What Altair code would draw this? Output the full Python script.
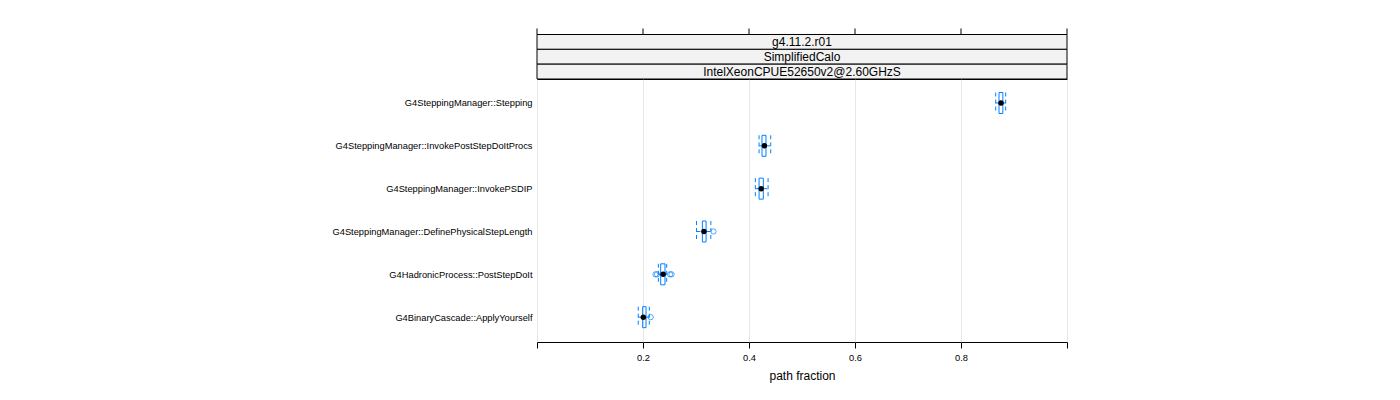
import altair as alt
import pandas as pd

# ---- data ----
categories = [
    "G4SteppingManager::Stepping",
    "G4SteppingManager::InvokePostStepDoItProcs",
    "G4SteppingManager::InvokePSDIP",
    "G4SteppingManager::DefinePhysicalStepLength",
    "G4HadronicProcess::PostStepDoIt",
    "G4BinaryCascade::ApplyYourself",
]
whisker_lo = [0.8655, 0.4190, 0.4120, 0.3010, 0.2290, 0.1910]
q1 = [0.8717, 0.4245, 0.4190, 0.3120, 0.2334, 0.1994]
median = [0.8755, 0.4290, 0.4230, 0.3150, 0.2380, 0.2006]
q3 = [0.8790, 0.4320, 0.4270, 0.3190, 0.2415, 0.2057]
whisker_hi = [0.8843, 0.4410, 0.4360, 0.3280, 0.2447, 0.2119]

outlier_cat = [3, 4, 4, 4, 4, 5]
outlier_val = [0.3330, 0.2236, 0.2264, 0.2510, 0.2538, 0.2145]

strip_levels = ["g4.11.2.r01", "SimplifiedCalo", "IntelXeonCPUE52650v2@2.60GHzS"]
x_ticks = [0.0, 0.2, 0.4, 0.6, 0.8, 1.0]

BLUE = "#0080ff"
FONT = "Liberation Sans"

df = pd.DataFrame({
    "cat": categories,
    "idx": list(range(len(categories))),
    "lo": whisker_lo, "q1": q1, "med": median, "q3": q3, "hi": whisker_hi,
})
out = pd.DataFrame({"idx": outlier_cat, "val": outlier_val})
strips = pd.DataFrame({"level": strip_levels})
ticks = pd.DataFrame({"v": x_ticks})

xscale = alt.Scale(domain=[0, 1], nice=False, zero=False)
xaxis = alt.Axis(
    values=x_ticks,
    labelExpr="datum.value > 0.01 && datum.value < 0.99 ? format(datum.value, '.1f') : ''",
    title="path fraction", titleFont=FONT, titleFontSize=12, titleFontWeight="normal",
    titleColor="black", titlePadding=8,
    labelFont=FONT, labelFontSize=9.3, labelColor="black", labelPadding=5, labelFlush=False,
    tickSize=6, tickColor="black", domain=False,
    grid=True, gridColor="#e6e6e6",
)
label_expr = "[" + ",".join("'" + c + "'" for c in categories) + "][datum.value]"
yscale = alt.Scale(domain=[-0.56, 5.58], reverse=True, nice=False, zero=False)
yaxis = alt.Axis(
    values=list(range(len(categories))), labelExpr=label_expr, title=None,
    labelFont=FONT, labelFontSize=9.3, labelColor="black", labelPadding=5, labelLimit=0,
    ticks=False, domain=False, grid=False, labelOverlap=False,
)

def X(f):
    return alt.X(f, type="quantitative", scale=xscale, axis=xaxis)

def Y():
    return alt.Y("idx:Q", scale=yscale, axis=yaxis)

base = alt.Chart(df)
wl = base.mark_rule(color=BLUE, strokeDash=[4, 3]).encode(x=X("lo"), x2="q1", y=Y())
wr = base.mark_rule(color=BLUE, strokeDash=[4, 3]).encode(x=X("q3"), x2="hi", y=Y())
el = base.mark_rule(color=BLUE, strokeDash=[4, 3], yOffset=-10.5, y2Offset=10.5).encode(
    x=X("lo"), y=Y(), y2="idx:Q")
er = base.mark_rule(color=BLUE, strokeDash=[4, 3], yOffset=-10.5, y2Offset=10.5).encode(
    x=X("hi"), y=Y(), y2="idx:Q")
box = base.mark_rect(filled=False, stroke=BLUE, strokeWidth=1, yOffset=-10.5, y2Offset=10.5).encode(
    x=X("q1"), x2="q3", y=Y(), y2="idx:Q")
dot = base.mark_circle(color="black", size=30, opacity=1).encode(x=X("med"), y=Y())
outl = alt.Chart(out).mark_point(shape="circle", filled=False, color=BLUE, size=28, strokeWidth=1).encode(
    x=X("val"), y=Y())

boxes = alt.layer(wl, wr, el, er, box, dot, outl)

strip_y = alt.Y("level:N", sort=strip_levels,
                scale=alt.Scale(range=[-44.5, 0], paddingInner=0, paddingOuter=0), axis=None)
strip_rect = alt.Chart(strips).mark_rect(fill="#f2f2f2", stroke="black", strokeWidth=1).encode(
    x=alt.value(0), x2=alt.value(530), y=strip_y)
strip_text = alt.Chart(strips).mark_text(font=FONT, fontSize=12, color="black", dy=0.5).encode(
    x=alt.value(265), y=strip_y, text="level:N")
strip_layer = alt.layer(strip_rect, strip_text)

top_ticks = alt.Chart(ticks).mark_rule(color="black").encode(
    x=X("v"), y=alt.value(-50.5), y2=alt.value(-44.5))

chart = alt.layer(boxes, strip_layer, top_ticks).resolve_scale(y="independent").properties(
    width=530, height=263,
    padding={"left": 537, "top": 79, "right": 333, "bottom": 58},
    autosize=alt.AutoSizeParams(type="none"),
    background="white",
).configure_view(stroke="black", strokeWidth=1)

chart.save("out.html", embed_options={"renderer": "svg", "actions": False})
